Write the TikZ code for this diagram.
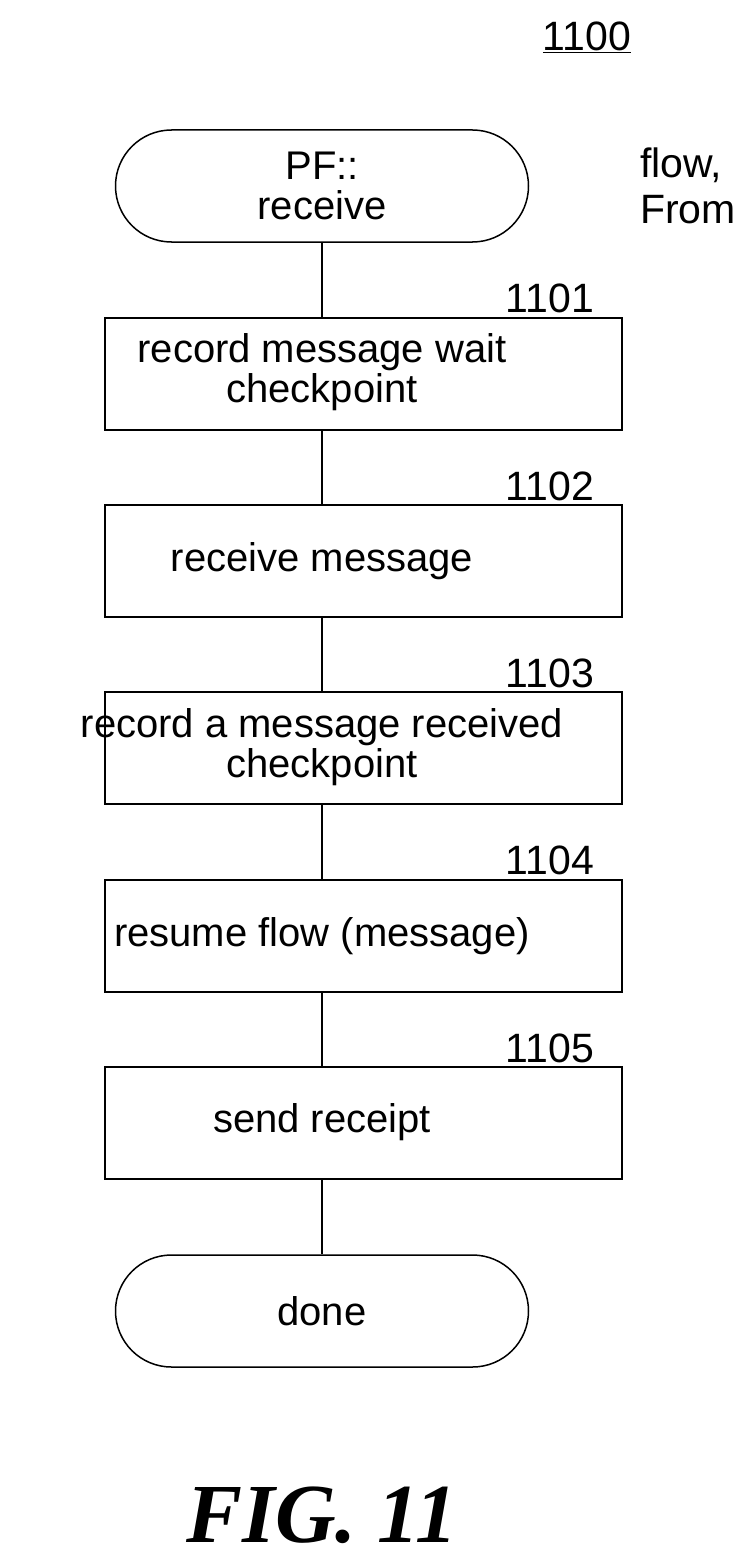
\documentclass[tikz,border=0pt]{standalone}
\usepackage{fontspec}
\setmainfont{Liberation Sans}
\newfontfamily\figfont{Liberation Serif}
\begin{document}
\begin{tikzpicture}[x=1pt,y=-1pt,
  box/.style={draw,line width=1.5pt,minimum width=517pt,minimum height=112pt,inner sep=0pt},
  txt/.style={align=center,inner sep=0pt,font=\fontsize{40}{40}\selectfont},
  term/.style={draw,line width=1.5pt,rounded corners=56pt,minimum width=413pt,minimum height=112pt,align=center,inner sep=0pt,font=\fontsize{40}{40}\selectfont},
  lbl/.style={font=\fontsize{41}{45}\selectfont,inner sep=0pt},
  conn/.style={line width=1.5pt}]
\useasboundingbox (0,0) rectangle (754,1565);
\node[lbl] (t) at (587,37) {\underline{1100}};
\node[term] (s) at (322,186) {PF::\\receive};
\node[lbl,anchor=west] (f1) at (640,165) {flow,};
\node[lbl,anchor=west] (f2) at (640,210) {From};
\node[box] (b1) at (363.5,374) {};
\node[box] (b2) at (363.5,561) {};
\node[box] (b3) at (363.5,748) {};
\node[box] (b4) at (363.5,936) {};
\node[box] (b5) at (363.5,1123) {};
\node[txt] (x1) at (322,372) {record message wait\\checkpoint};
\node[txt] (x2) at (322,561) {receive message};
\node[txt] (x3) at (322,747) {record a message received\\checkpoint};
\node[txt] (x4) at (322,936) {resume flow (message)};
\node[txt] (x5) at (322,1122) {send receipt};
\node[term] (d) at (322,1311) {done};
\node[lbl] (l1) at (550,298) {1101};
\node[lbl] (l2) at (550,486) {1102};
\node[lbl] (l3) at (550,673) {1103};
\node[lbl] (l4) at (550,860) {1104};
\node[lbl] (l5) at (550,1048) {1105};
\node[font=\figfont\fontsize{84}{90}\selectfont\bfseries\itshape] (fig) at (322,1515) {FIG. 11};
\draw[conn] (s.south) -- (s.south |- b1.north);
\draw[conn] (s.south |- b1.south) -- (s.south |- b2.north);
\draw[conn] (s.south |- b2.south) -- (s.south |- b3.north);
\draw[conn] (s.south |- b3.south) -- (s.south |- b4.north);
\draw[conn] (s.south |- b4.south) -- (s.south |- b5.north);
\draw[conn] (s.south |- b5.south) -- (d.north);
\end{tikzpicture}
\end{document}
